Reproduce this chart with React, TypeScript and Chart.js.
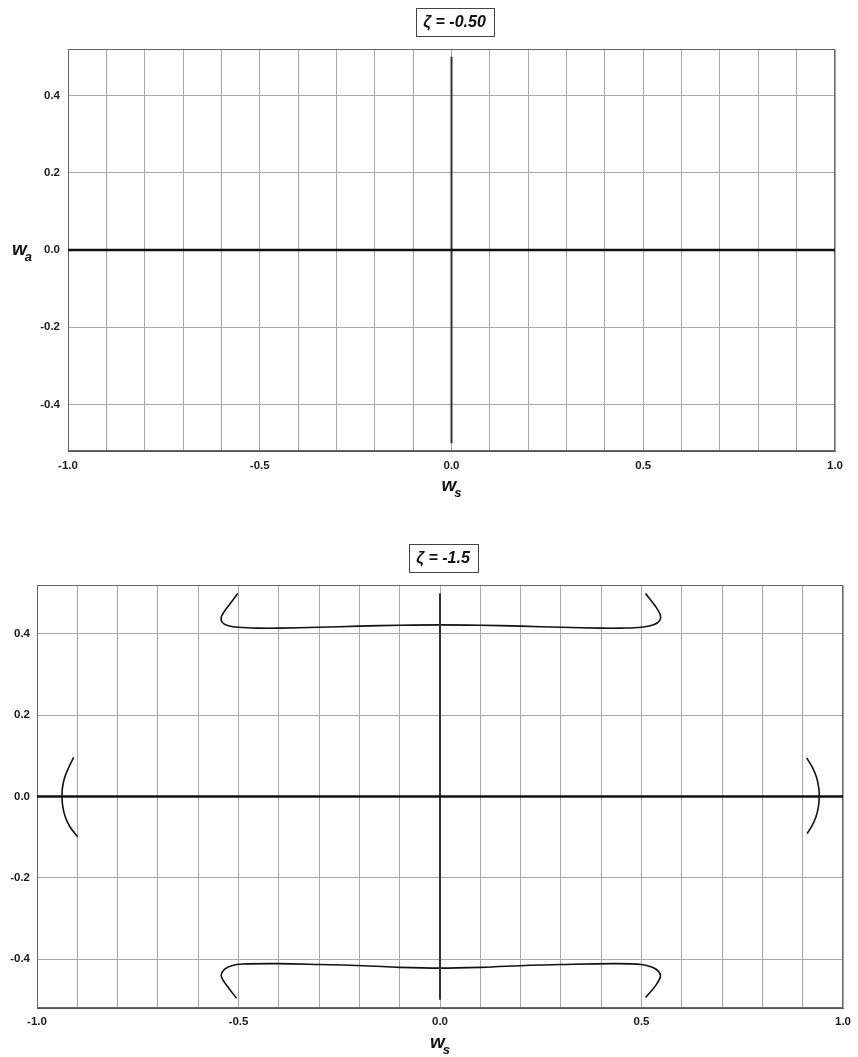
import React, { useEffect, useRef } from "react";
import { Chart, registerables } from "chart.js";

Chart.register(...registerables);

// ---- Axis ticks ----
const xGridTicks = [-1.0, -0.9, -0.8, -0.7, -0.6, -0.5, -0.4, -0.3, -0.2, -0.1, 0.0, 0.1, 0.2, 0.3, 0.4, 0.5, 0.6, 0.7, 0.8, 0.9, 1.0];
const xLabelTicks = [-1.0, -0.5, 0.0, 0.5, 1.0];
const yTicks = [-0.4, -0.2, 0.0, 0.2, 0.4];
const xRange = [-1.0, 1.0];
const yRange = [-0.52, 0.52];

// ---- Titles ----
const topTitle = "ζ = -0.50";
const bottomTitle = "ζ = -1.5";
const xTitleMain = "w";
const xTitleSub = "s";
const yTitleMain = "w";
const yTitleSub = "a";

// ---- Reference axes drawn as lines ----
const axisHX = [-1.0, 1.0];
const axisHY = [0.0, 0.0];
const axisVX = [0.0, 0.0];
const axisVY = [-0.5, 0.5];

// ---- ζ = -1.5 branches ----
const upperX = [-0.502, -0.52, -0.535, -0.543, -0.54, -0.525, -0.5, -0.45, -0.4, -0.3, -0.2, -0.1, 0.0, 0.1, 0.2, 0.3, 0.4, 0.45, 0.5, 0.53, 0.545, 0.547, 0.535, 0.51];
const upperY = [0.499, 0.475, 0.455, 0.44, 0.428, 0.42, 0.416, 0.414, 0.414, 0.416, 0.419, 0.421, 0.422, 0.421, 0.419, 0.416, 0.414, 0.414, 0.416, 0.422, 0.432, 0.445, 0.467, 0.499];

const lowerX = [-0.505, -0.525, -0.538, -0.543, -0.535, -0.517, -0.49, -0.4, -0.3, -0.187, -0.1, 0.0, 0.1, 0.222, 0.3, 0.43, 0.5, 0.527, 0.542, 0.547, 0.535, 0.51];
const lowerY = [-0.496, -0.47, -0.452, -0.44, -0.425, -0.416, -0.412, -0.411, -0.413, -0.416, -0.42, -0.422, -0.42, -0.415, -0.413, -0.411, -0.413, -0.42, -0.43, -0.442, -0.465, -0.494];

const leftX = [-0.909, -0.922, -0.932, -0.937, -0.938, -0.936, -0.93, -0.918, -0.899];
const leftY = [0.096, 0.07, 0.045, 0.02, 0.0, -0.025, -0.05, -0.075, -0.099];

const rightX = [0.91, 0.925, 0.935, 0.94, 0.941, 0.939, 0.933, 0.923, 0.911];
const rightY = [0.095, 0.07, 0.045, 0.02, 0.0, -0.025, -0.05, -0.072, -0.091];

const zip = (xs: number[], ys: number[]) => xs.map((x, i) => ({ x, y: ys[i] }));

const FONT = '"Liberation Sans", Arial, sans-serif';

const decorPlugin = {
  id: "decor",
  beforeDatasetsDraw(chart: any) {
    const { ctx, chartArea: a } = chart;
    ctx.save();
    ctx.strokeStyle = "#666";
    ctx.lineWidth = 1;
    ctx.strokeRect(a.left + 0.5, a.top + 0.5, a.right - a.left - 1, a.bottom - a.top - 1);
    ctx.restore();
  },
  afterDraw(chart: any, _args: any, opts: any) {
    const { ctx, chartArea: a } = chart;
    const cx = (a.left + a.right) / 2;
    ctx.save();
    // boxed title
    ctx.font = `italic bold 16px ${FONT}`;
    const tw = ctx.measureText(opts.title).width;
    const bw = tw + 15;
    const bh = 28;
    const bx = cx + 3 - bw / 2;
    const by = a.top - 13 - bh;
    ctx.fillStyle = "#fff";
    ctx.fillRect(bx, by, bw, bh);
    ctx.strokeStyle = "#444";
    ctx.lineWidth = 1;
    ctx.strokeRect(Math.round(bx) + 0.5, Math.round(by) + 0.5, Math.round(bw), bh);
    ctx.fillStyle = "#111";
    ctx.textBaseline = "alphabetic";
    ctx.textAlign = "left";
    ctx.fillText(opts.title, bx + 7.5, by + 19);

    const drawSub = (main: string, sub: string, x: number, y: number) => {
      ctx.font = `italic bold 19px ${FONT}`;
      ctx.fillText(main, x, y);
      const w = ctx.measureText(main).width;
      ctx.font = `italic bold 13px ${FONT}`;
      ctx.fillText(sub, x + w - 2, y + 6);
    };
    // x title
    drawSub(xTitleMain, xTitleSub, cx - 10, a.bottom + 40);
    // y title
    if (opts.yTitle) {
      const y0 = chart.scales.y.getPixelForValue(0);
      drawSub(yTitleMain, yTitleSub, 12, y0 + 5);
    }
    ctx.restore();
  },
};

function makeConfig(title: string, yTitle: boolean, padTop: number, padRight: number, yWidth: number, xLabelPad: number, yLabelPad: number, curves: { x: number; y: number }[][]) {
  const datasets: any[] = [
    {
      data: zip(axisHX, axisHY),
      showLine: true,
      borderColor: "#111",
      borderWidth: 2.5,
      pointRadius: 0,
    },
    {
      data: zip(axisVX, axisVY),
      showLine: true,
      borderColor: "#333",
      borderWidth: 2,
      pointRadius: 0,
    },
    ...curves.map((c) => ({
      data: c,
      showLine: true,
      borderColor: "#111",
      borderWidth: 1.6,
      pointRadius: 0,
      tension: 0.35,
    })),
  ];
  return {
    type: "scatter",
    data: { datasets },
    plugins: [decorPlugin],
    options: {
      animation: false,
      responsive: false,
      layout: { padding: { top: padTop, right: padRight, left: 0, bottom: 0 } },
      plugins: {
        legend: { display: false },
        tooltip: { enabled: false },
        decor: { title, yTitle },
      },
      scales: {
        x: {
          type: "linear",
          min: xRange[0],
          max: xRange[1],
          afterBuildTicks: (scale: any) => {
            scale.ticks = xGridTicks.map((v) => ({ value: v }));
          },
          afterFit: (scale: any) => {
            scale.height = 49;
          },
          ticks: {
            autoSkip: false,
            maxRotation: 0,
            padding: xLabelPad,
            color: "#1a1a1a",
            font: { family: FONT, size: 11.5, weight: "bold" },
            callback: (value: number) =>
              xLabelTicks.some((v) => Math.abs(v - value) < 1e-9) ? Number(value).toFixed(1) : "",
          },
          grid: { color: "#a8a8a8", lineWidth: 1, drawTicks: false },
          border: { display: true, color: "#555", width: 1 },
        },
        y: {
          type: "linear",
          min: yRange[0],
          max: yRange[1],
          afterBuildTicks: (scale: any) => {
            scale.ticks = yTicks.map((v) => ({ value: v }));
          },
          afterFit: (scale: any) => {
            scale.width = yWidth;
          },
          ticks: {
            padding: yLabelPad,
            color: "#1a1a1a",
            font: { family: FONT, size: 11.5, weight: "bold" },
            callback: (value: number) => Number(value).toFixed(1),
          },
          grid: { color: "#a8a8a8", lineWidth: 1, drawTicks: false },
          border: { display: true, color: "#555", width: 1 },
        },
      },
    },
  } as any;
}

export default function App() {
  const topRef = useRef<HTMLCanvasElement | null>(null);
  const bottomRef = useRef<HTMLCanvasElement | null>(null);

  useEffect(() => {
    const c1 = new Chart(topRef.current as HTMLCanvasElement, makeConfig(topTitle, true, 49, 23, 68, 8, 8, []));
    const c2 = new Chart(
      bottomRef.current as HTMLCanvasElement,
      makeConfig(bottomTitle, false, 65, 10, 37, 7, 7, [zip(upperX, upperY), zip(lowerX, lowerY), zip(leftX, leftY), zip(rightX, rightY)])
    );
    return () => {
      c1.destroy();
      c2.destroy();
    };
  }, []);

  return (
    <div style={{ position: "absolute", left: 0, top: 0, width: 858, height: 1057, background: "#fff" }}>
      <canvas ref={topRef} width={858} height={500} style={{ position: "absolute", left: 0, top: 0, width: 858, height: 500 }} />
      <canvas ref={bottomRef} width={858} height={537} style={{ position: "absolute", left: 0, top: 520, width: 858, height: 537 }} />
    </div>
  );
}
